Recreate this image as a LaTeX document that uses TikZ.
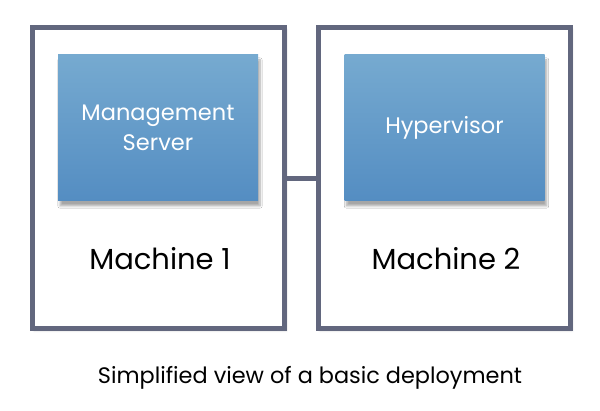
\documentclass[tikz,border=0pt]{standalone}
\usepackage{fontspec}
\setmainfont{Poppins}
\usetikzlibrary{shadows.blur}
\definecolor{framegray}{RGB}{98,103,126}
\definecolor{boxtop}{RGB}{118,170,208}
\definecolor{boxbottom}{RGB}{84,141,194}
\begin{document}
\begin{tikzpicture}[
    x=1pt, y=-1pt,
    machine/.style={draw=framegray, line width=5pt, fill=white, minimum width=252pt, minimum height=301pt,
        blur shadow={shadow xshift=1.5pt, shadow yshift=-1.5pt, shadow blur steps=4, shadow opacity=25}},
    service/.style={top color=boxtop, bottom color=boxbottom, draw=none, minimum width=200pt, minimum height=146pt,
        text=white, align=center, font=\fontsize{22.5}{30}\selectfont,
        blur shadow={shadow xshift=2pt, shadow yshift=-5pt, shadow blur steps=8, shadow opacity=35}},
    label/.style={font=\fontsize{29}{34}\selectfont},
    link/.style={draw=framegray, line width=5pt}
]
\useasboundingbox (0,0) rectangle (600,411);

% Nodes
\node[machine] (m1) at (158.75, 178.5) {};
\node[machine] (m2) at (444.5, 178.5) {};
\node[service] (ms) at (158, 128) {Management\\Server};
\node[service] (hv) at (444.5, 128) {Hypervisor};
\node[label] (l1) at (160, 259) {Machine 1};
\node[label] (l2) at (446, 259) {Machine 2};
\node[font=\fontsize{22.4}{26}\selectfont] (cap) at (310, 378) {Simplified view of a basic deployment};

% Edges
\draw[link] (m1.east) -- (m2.west);

\end{tikzpicture}
\end{document}
